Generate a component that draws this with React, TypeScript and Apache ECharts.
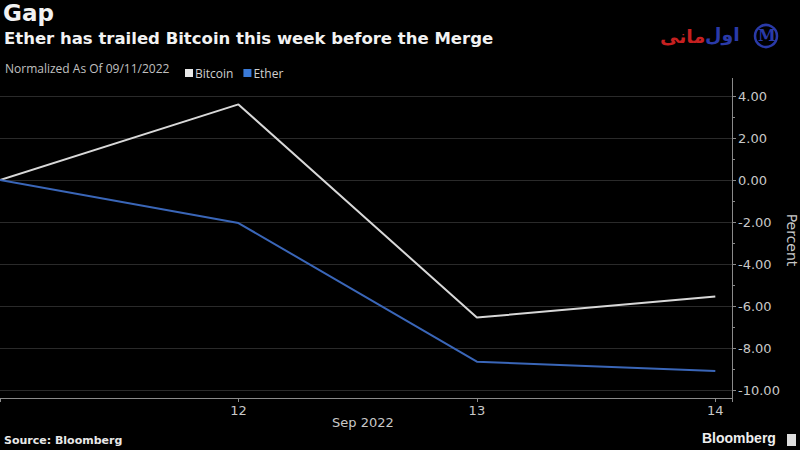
import React, { useEffect, useRef } from "react";
import * as echarts from "echarts";

const days = [11, 12, 13, 14];
const bitcoin = [0, 3.6, -6.55, -5.55];
const ether = [0, -2.05, -8.65, -9.1];
const yTicks = [-10, -8, -6, -4, -2, 0, 2, 4];

export default function App() {
  const ref = useRef<HTMLDivElement>(null);
  useEffect(() => {
    const chart = echarts.init(ref.current!, null, { renderer: "svg" });
    const font = "'DejaVu Sans', sans-serif";
    const narrow = "'Liberation Sans Narrow', 'Open Sans', sans-serif";
    chart.setOption({
      animation: false,
      backgroundColor: "#000",
      grid: { left: 0, right: 68, top: 96, bottom: 60, containLabel: false, outerBoundsMode: "none" },
      legend: {
        left: 180,
        top: 62,
        itemWidth: 8,
        itemHeight: 8,
        itemGap: 10,
        icon: "rect",
        textStyle: { color: "#d0d0d0", fontSize: 12, fontFamily: narrow, padding: [0, 0, 0, -3] },
        data: ["Bitcoin", "Ether"],
      },
      xAxis: {
        type: "value",
        min: 11,
        max: 14.07,
        interval: 1,
        offset: 8,
        splitLine: { show: false },
        axisLine: { onZero: false, lineStyle: { color: "#8a8a8a", width: 1 } },
        axisTick: { show: true, length: 4, lineStyle: { color: "#8a8a8a" } },
        axisLabel: {
          color: "#c8c8c8",
          fontSize: 13,
          fontFamily: font,
          margin: 6,
          formatter: (v: number) => (Number.isInteger(v) && v !== 11 ? String(v) : ""),
        },
      },
      yAxis: {
        type: "value",
        position: "right",
        min: yTicks[0],
        max: yTicks[yTicks.length - 1],
        interval: 2,
        axisLine: { show: true, onZero: false, lineStyle: { color: "#8a8a8a", width: 1 } },
        axisTick: { show: true, inside: false, length: 4, lineStyle: { color: "#8a8a8a" } },
        minorTick: { show: true, splitNumber: 2, length: 3, lineStyle: { color: "#8a8a8a" } },
        splitLine: { show: true, lineStyle: { color: "#2a2a2a", width: 1 } },
        axisLabel: {
          color: "#c8c8c8",
          fontSize: 13,
          fontFamily: font,
          margin: 6,
          formatter: (v: number) => v.toFixed(2),
        },
      },
      series: [
        {
          name: "Bitcoin",
          type: "line",
          data: days.map((d, i) => [d, bitcoin[i]]),
          symbol: "none",
          itemStyle: { color: "#e8e8e8" },
          lineStyle: { color: "#d8d8d8", width: 2 },
        },
        {
          name: "Ether",
          type: "line",
          data: days.map((d, i) => [d, ether[i]]),
          symbol: "none",
          itemStyle: { color: "#3a7ad8" },
          lineStyle: { color: "#3a66b8", width: 2 },
        },
      ],
      graphic: [
        { type: "line", shape: { x1: 732.5, y1: 78, x2: 732.5, y2: 398 }, style: { stroke: "#8a8a8a", lineWidth: 1 } },
        {
          type: "text",
          x: 792,
          y: 240,
          rotation: -Math.PI / 2,
          style: { text: "Percent", fill: "#c8c8c8", font: `14px ${font}`, align: "center", verticalAlign: "middle" },
        },
        { type: "text", left: 3, top: 1, style: { text: "Gap", fill: "#f2f2f2", font: `bold 23px ${font}` } },
        {
          type: "text",
          left: 4,
          top: 30,
          style: { text: "Ether has trailed Bitcoin this week before the Merge", fill: "#f2f2f2", font: `bold 16.5px ${font}` },
        },
        {
          type: "text",
          left: 5,
          top: 62,
          style: { text: "Normalized As Of 09/11/2022", fill: "#c0c0c0", font: `12px ${narrow}` },
        },
        { type: "text", left: 332, top: 416, style: { text: "Sep 2022", fill: "#c8c8c8", font: `13px ${font}` } },
        { type: "text", left: 4, top: 435, style: { text: "Source: Bloomberg", fill: "#e8e8e8", font: `bold 11px ${font}` } },
        { type: "text", left: 702, top: 431, style: { text: "Bloomberg", fill: "#eeeeee", font: `bold 14px 'Liberation Sans', sans-serif` } },
        { type: "rect", shape: { x: 787, y: 434, width: 9, height: 12 }, style: { fill: "#ddd" } },
        { type: "text", left: 660, top: 26, style: { text: "مانی", fill: "#c62020", font: "bold 19px 'DejaVu Sans', sans-serif" } },
        { type: "text", left: 705, top: 24, style: { text: "اول", fill: "#2a3aa8", font: "bold 19px 'DejaVu Sans', sans-serif" } },
        { type: "circle", shape: { cx: 766, cy: 36, r: 11 }, style: { fill: "none", stroke: "#2a3aa8", lineWidth: 2.5 } },
        { type: "text", left: 758, top: 27, style: { text: "M", fill: "#2a3aa8", font: "bold 16px 'DejaVu Serif', serif" } },
      ],
    });
    return () => chart.dispose();
  }, []);
  return <div ref={ref} style={{ width: 800, height: 450, position: "fixed", left: 0, top: 0 }} />;
}
